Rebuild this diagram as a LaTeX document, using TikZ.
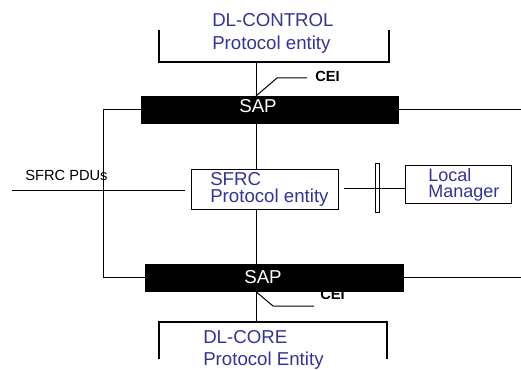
\documentclass[tikz,border=0pt]{standalone}
\usepackage{fontspec}
\setmainfont{Liberation Sans}
\definecolor{entityblue}{RGB}{51,51,153}
\begin{document}
\begin{tikzpicture}[x=0.75pt,y=-0.75pt,
  thin line/.style={line width=0.75pt, black},
  bracket/.style={line width=1.7pt, black},
  sized/.style 2 args={minimum width={#1*0.75pt}, minimum height={#2*0.75pt}, inner sep=0pt, anchor=north west},
  sapbar/.style={sized={#1}{27}, fill=black, draw=black, line width=0.5pt},
  entitybox/.style={draw=black, line width=1pt, fill=white},
  bluetext/.style={text=entityblue, font=\fontsize{14}{16}\selectfont, inner sep=0pt, anchor=base west},
  saptext/.style={text=white, font=\fontsize{14}{16}\selectfont, inner sep=0pt, anchor=base},
  smalltext/.style={font=\fontsize{11}{13}\selectfont, inner sep=0pt, anchor=base west},
  ceitext/.style={font=\bfseries\fontsize{11}{13}\selectfont, inner sep=0pt, anchor=base west}]
\useasboundingbox (0,0) rectangle (521,370);

% reference points
\coordinate (spine) at (256,0);
\coordinate (leftbus) at (103,0);
\coordinate (rightedge) at (521,0);

% DL-CONTROL entity (open bracket)
\draw[bracket] (159,30) -- (159,62) -- (389,62) -- (389,30);
\coordinate (ctlport) at (256,62);
\node[bluetext] (ctl1) at (212,27) {DL-CONTROL};
\node[bluetext] (ctl2) at (212,50) {Protocol entity};

% upper SAP
\node[sapbar=257] (sap1) at (141,96) {};
\node[saptext] (sap1t) at (258,113) {SAP};

% upper CEI label
\coordinate (cei1a) at (277,78);
\coordinate (cei1b) at (307,78);
\node[ceitext] (cei1) at (315,82) {CEI};
\draw[thin line] (sap1.north -| spine) -- (cei1a) -- (cei1b);
\draw[thin line] (ctlport) -- (sap1.north -| spine);

% SFRC entity
\node[sized={147}{40}, entitybox] (sfrc) at (191,169) {};
\node[bluetext] (sfrc1) at (210,186) {SFRC};
\node[bluetext] (sfrc2) at (210,203) {Protocol entity};

% Local manager and its interface bar
\node[sized={106}{38}, entitybox] (lm) at (405,165) {};
\node[text=entityblue, font=\fontsize{13.5}{11.6}\selectfont, inner sep=0pt,
      anchor=north west, align=left] (lmtext) at (428,168.5) {Local\\Manager};
\node[sized={4}{49}, draw=black, line width=1pt] (iface) at (375,163) {};
\coordinate (lmstart) at (344,189);
\draw[thin line] (lmstart) -- (lmstart -| lm.west);

% SFRC PDUs
\node[smalltext] (pdu) at (25,181) {SFRC PDUs};
\coordinate (pduA) at (12,191);
\coordinate (pduB) at (185,191);
\draw[thin line] (pduA) -- (pduB);

% lower CEI label (partly under the lower SAP)
\coordinate (cei2a) at (273,306);
\coordinate (cei2b) at (314,306);
\node[ceitext] (cei2) at (320,300) {CEI};

% lower SAP
\node[sapbar=258] (sap2) at (145,264) {};
\node[saptext] (sap2t) at (263,283) {SAP};
\draw[thin line] (sap2.south -| spine) -- (cei2a) -- (cei2b);

% DL-CORE entity (open bracket)
\draw[bracket] (159,359) -- (159,322) -- (387,322) -- (387,359);
\coordinate (coreport) at (256,322);
\node[bluetext] (core1) at (203,343) {DL-CORE};
\node[bluetext] (core2) at (203,365) {Protocol Entity};

% vertical spine
\draw[thin line] (sap1.south -| spine) -- (sfrc.north -| spine);
\draw[thin line] (sfrc.south -| spine) -- (sap2.north -| spine);
\draw[thin line] (sap2.south -| spine) -- (coreport);

% side bus and outgoing lines
\draw[thin line] (sap1.west) -| (leftbus |- sap2.west) -- (sap2.west);
\draw[thin line] (sap1.east) -- (sap1.east -| rightedge);
\draw[thin line] (sap2.east) -- (sap2.east -| rightedge);
\end{tikzpicture}
\end{document}
